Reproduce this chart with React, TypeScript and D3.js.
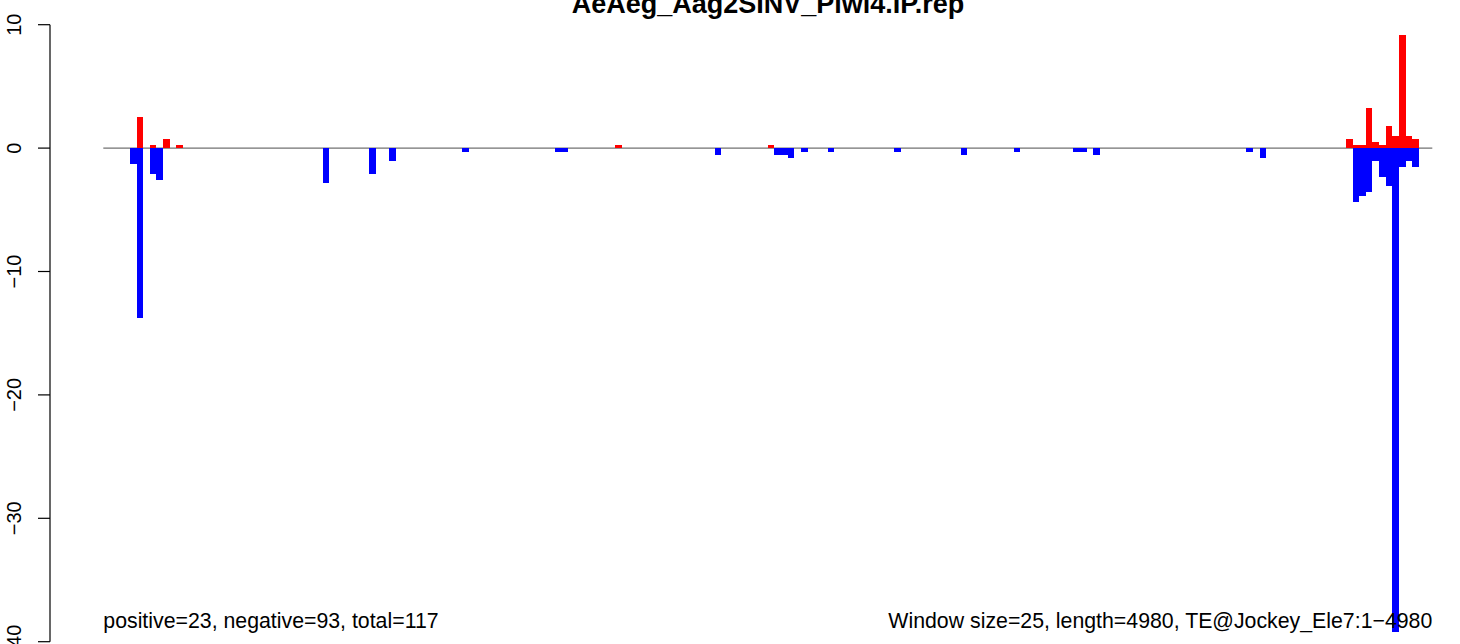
import { useEffect, useRef } from 'react';
import * as d3 from 'd3';

// window counts (length 4980 / window size 25)
const windowCount = 200;

// positive strand signal (red), by window index
const posWindows = [5, 7, 9, 11, 77, 100, 187, 188, 189, 190, 191, 192, 193, 194, 195, 196, 197];
const posValues = [2.5, 0.24, 0.73, 0.24, 0.24, 0.24, 0.73, 0.24, 0.24, 3.24, 0.49, 0.24, 1.78, 0.97, 9.16, 0.97, 0.73];

// negative strand signal (blue), by window index
const negWindows = [4, 5, 7, 8, 33, 40, 43, 54, 68, 69, 92, 101, 102, 103, 105, 109, 119, 129, 137, 146, 147, 149, 172, 174, 188, 189, 190, 191, 192, 193, 194, 195, 196, 197];
const negValues = [-1.27, -13.76, -2.09, -2.57, -2.81, -2.08, -1.03, -0.3, -0.3, -0.3, -0.54, -0.54, -0.54, -0.78, -0.3, -0.3, -0.3, -0.54, -0.3, -0.3, -0.3, -0.54, -0.3, -0.78, -4.35, -3.87, -3.54, -1.05, -2.33, -3.05, -39.25, -1.51, -1.03, -1.51];

const yTicks = [10, 0, -10, -20, -30, -40];

const title = 'AeAeg_Aag2SINV_Piwi4.IP.rep';
const leftNote = 'positive=23, negative=93, total=117';
const rightNote = 'Window size=25, length=4980, TE@Jockey_Ele7:1\u22124980';

const W = 1460;
const H = 644;
const FONT = '"Liberation Sans", Arial, Helvetica, sans-serif';

export default function App() {
  const svgRef = useRef<SVGSVGElement>(null);

  useEffect(() => {
    if (!svgRef.current) return;
    const svg = d3.select(svgRef.current);
    svg.selectAll('*').remove();

    const x = d3.scaleLinear().domain([0, windowCount]).range([103.3, 1432.3]);
    const y = d3.scaleLinear().domain([-40, 10]).range([641.7, 24.7]);

    const pos = posWindows.map((w, i) => ({ w, v: posValues[i] }));
    const neg = negWindows.map((w, i) => ({ w, v: negValues[i] }));

    // zero line
    svg.append('line')
      .attr('x1', x(0)).attr('x2', x(windowCount))
      .attr('y1', y(0)).attr('y2', y(0))
      .attr('stroke', '#4d4d4d')
      .attr('stroke-width', 1);

    svg.append('g')
      .selectAll('rect')
      .data(pos)
      .enter()
      .append('rect')
      .attr('x', d => x(d.w))
      .attr('width', d => x(d.w + 1) - x(d.w))
      .attr('y', d => y(d.v))
      .attr('height', d => y(0) - y(d.v))
      .attr('fill', '#ff0000')
      .attr('shape-rendering', 'crispEdges');

    svg.append('g')
      .selectAll('rect')
      .data(neg)
      .enter()
      .append('rect')
      .attr('x', d => x(d.w))
      .attr('width', d => x(d.w + 1) - x(d.w))
      .attr('y', y(0))
      .attr('height', d => y(d.v) - y(0))
      .attr('fill', '#0000ff')
      .attr('shape-rendering', 'crispEdges');

    // y axis, R style
    const axisX = 50;
    const ax = svg.append('g');
    ax.append('line')
      .attr('x1', axisX).attr('x2', axisX)
      .attr('y1', y(10)).attr('y2', y(-40))
      .attr('stroke', '#000').attr('stroke-width', 1.2);
    ax.selectAll('.tick')
      .data(yTicks)
      .enter()
      .append('line')
      .attr('x1', axisX - 12).attr('x2', axisX)
      .attr('y1', d => y(d)).attr('y2', d => y(d))
      .attr('stroke', '#000').attr('stroke-width', 1.2);
    ax.selectAll('.lbl')
      .data(yTicks)
      .enter()
      .append('text')
      .attr('transform', d => `translate(21,${y(d)}) rotate(-90)`)
      .attr('text-anchor', 'middle')
      .style('font-family', FONT)
      .style('font-size', '20px')
      .text(d => (d < 0 ? '\u2212' + Math.abs(d) : String(d)));

    svg.append('text')
      .attr('x', 768).attr('y', 13)
      .attr('text-anchor', 'middle')
      .style('font-family', FONT)
      .style('font-size', '27px')
      .style('font-weight', 'bold')
      .text(title);

    svg.append('text')
      .attr('x', x(0)).attr('y', 628)
      .style('font-family', FONT)
      .style('font-size', '21.3px')
      .text(leftNote);

    svg.append('text')
      .attr('x', x(windowCount)).attr('y', 628)
      .attr('text-anchor', 'end')
      .style('font-family', FONT)
      .style('font-size', '21.3px')
      .text(rightNote);
  }, []);

  return (
    <svg
      ref={svgRef}
      width={W}
      height={H}
      style={{ position: 'absolute', left: 0, top: 0, background: '#fff' }}
    />
  );
}
